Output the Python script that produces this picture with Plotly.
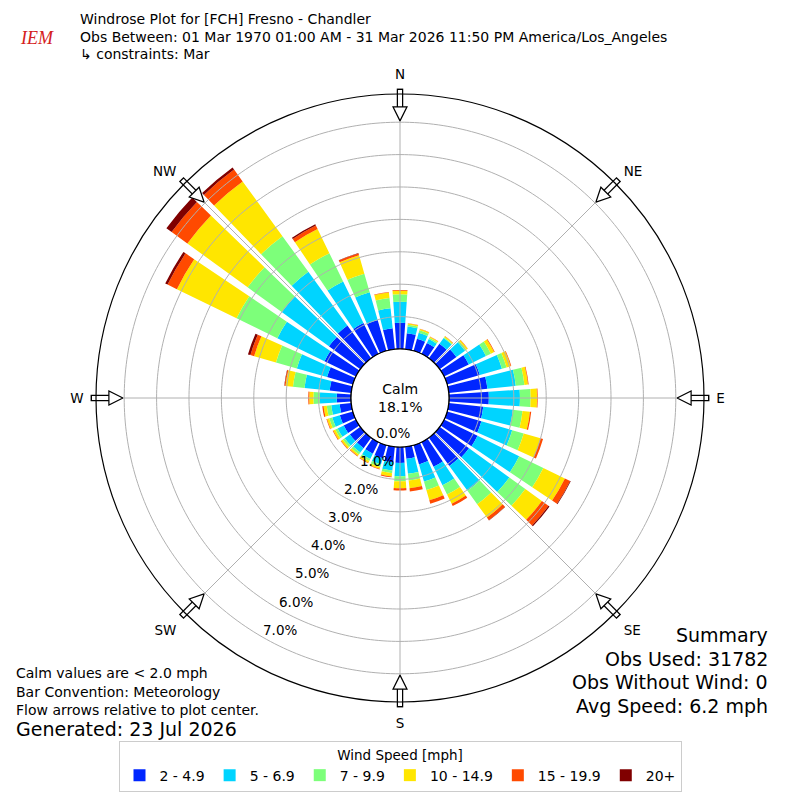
import numpy as np
import plotly.graph_objects as go

# 10 degree sectors, meteorological convention (direction wind blows from)
DIRECTIONS = list(range(0, 360, 10))

SPEED_BINS = ["2 - 4.9", "5 - 6.9", "7 - 9.9", "10 - 14.9", "15 - 19.9", "20+"]
BIN_COLORS = ["#0026ff", "#00d4ff", "#7dff7a", "#ffe600", "#ff4a00", "#800000"]

# frequency [%] of each speed bin per sector
PCT_2_5 = [0.81, 0.50, 0.39, 0.38, 0.56, 0.64, 0.85, 1.05, 1.20, 1.23, 1.07, 1.10,
           1.15, 1.12, 1.08, 0.85, 0.62, 0.37, 0.49, 0.48, 0.42, 0.40, 0.40, 0.40,
           0.42, 0.42, 0.36, 0.44, 0.67, 0.83, 1.08, 1.20, 1.25, 1.06, 0.99, 0.65]
PCT_5_7 = [0.65, 0.21, 0.19, 0.13, 0.22, 0.33, 0.59, 0.71, 0.88, 0.96, 0.92, 0.99,
           1.43, 1.54, 0.95, 0.63, 0.55, 0.47, 0.41, 0.26, 0.20, 0.18, 0.17, 0.20,
           0.21, 0.24, 0.26, 0.52, 0.78, 0.97, 1.62, 1.80, 2.05, 1.43, 0.89, 0.62]
PCT_7_10 = [0.23, 0.05, 0.08, 0.05, 0.03, 0.05, 0.17, 0.15, 0.27, 0.33, 0.30, 0.37,
            0.83, 0.61, 0.51, 0.32, 0.27, 0.21, 0.16, 0.08, 0.08, 0.07, 0.07, 0.07,
            0.08, 0.10, 0.14, 0.20, 0.36, 0.67, 1.40, 1.30, 1.36, 0.97, 0.60, 0.32]
PCT_10_15 = [0.11, 0.04, 0.04, 0.03, 0.03, 0.05, 0.11, 0.13, 0.11, 0.20, 0.23, 0.54,
             0.74, 0.63, 0.51, 0.32, 0.33, 0.24, 0.21, 0.10, 0.06, 0.06, 0.06, 0.06,
             0.07, 0.07, 0.10, 0.13, 0.23, 0.70, 2.05, 2.30, 2.09, 0.83, 0.59, 0.17]
PCT_15_20 = [0.02, 0.01, 0.01, 0.01, 0.01, 0.01, 0.02, 0.02, 0.02, 0.02, 0.04, 0.08,
             0.18, 0.25, 0.10, 0.08, 0.11, 0.10, 0.07, 0.03, 0.02, 0.02, 0.02, 0.02,
             0.02, 0.02, 0.04, 0.03, 0.03, 0.12, 0.32, 0.60, 0.45, 0.12, 0.06, 0.02]
PCT_20_UP = [0.00, 0.00, 0.00, 0.00, 0.00, 0.00, 0.00, 0.00, 0.00, 0.00, 0.00, 0.00,
             0.02, 0.04, 0.01, 0.00, 0.00, 0.00, 0.00, 0.00, 0.00, 0.00, 0.00, 0.00,
             0.00, 0.00, 0.00, 0.00, 0.01, 0.08, 0.08, 0.20, 0.08, 0.04, 0.01, 0.00]

SERIES = [PCT_2_5, PCT_5_7, PCT_7_10, PCT_10_15, PCT_15_20, PCT_20_UP]

RING_TICKS = [0, 1, 2, 3, 4, 5, 6, 7]
R_MAX = 7.87
COMPASS_DIRS = [0, 45, 90, 135, 180, 225, 270, 315]
COMPASS_TEXT = ["N", "NE", "E", "SE", "S", "SW", "W", "NW"]

CALM_PCT = 18.1
FONT = "DejaVu Sans"
GRID = "#b0b0b0"

# page geometry (the browser adds an 8px body margin)
W = H = 800
OFF = 8
CX, CY = 400, 398          # rose centre in the page
R_OUT, R_HOLE = 304, 49    # outer radius / calm circle radius in px


def px(x, y):
    return (x - OFF) / W, 1 - (y - OFF) / H


fig = go.Figure()

for vals, name, color in zip(SERIES, SPEED_BINS, BIN_COLORS):
    fig.add_trace(go.Barpolar(
        r=vals, theta=DIRECTIONS, width=8, name=name,
        marker=dict(color=color, line=dict(width=0)),
        hoverinfo="skip",
    ))

# grid drawn on top of the bars, like the original
ring_theta = np.linspace(0, 360, 361)
for rv in RING_TICKS[1:]:
    fig.add_trace(go.Scatterpolar(
        r=[rv] * len(ring_theta), theta=ring_theta, mode="lines",
        line=dict(color=GRID, width=1), showlegend=False, hoverinfo="skip"))

spoke_r, spoke_t = [], []
for d in COMPASS_DIRS:
    spoke_r += [0, R_MAX, None]
    spoke_t += [d, d, None]
fig.add_trace(go.Scatterpolar(
    r=spoke_r, theta=spoke_t, mode="lines",
    line=dict(color=GRID, width=1), showlegend=False, hoverinfo="skip"))

# calm circle edge
fig.add_trace(go.Scatterpolar(
    r=[0] * len(ring_theta), theta=ring_theta, mode="lines",
    line=dict(color="black", width=1.2), showlegend=False, hoverinfo="skip"))

# flow arrows at the rim pointing to the centre
arrow_angle = [d + 180 for d in COMPASS_DIRS]
fig.add_trace(go.Scatterpolar(
    r=[7.67] * 8, theta=COMPASS_DIRS, mode="markers", cliponaxis=False,
    marker=dict(symbol="line-ns", size=17, angle=arrow_angle,
                line=dict(color="black", width=6.5)),
    showlegend=False, hoverinfo="skip"))
fig.add_trace(go.Scatterpolar(
    r=[7.67] * 8, theta=COMPASS_DIRS, mode="markers", cliponaxis=False,
    marker=dict(symbol="line-ns", size=15, angle=arrow_angle,
                line=dict(color="white", width=4)),
    showlegend=False, hoverinfo="skip"))
fig.add_trace(go.Scatterpolar(
    r=[7.04] * 8, theta=COMPASS_DIRS, mode="markers", cliponaxis=False,
    marker=dict(symbol="arrow-up", size=14, angle=arrow_angle, color="white",
                line=dict(color="black", width=1.2)),
    showlegend=False, hoverinfo="skip"))

x0, y1 = px(CX - R_OUT, CY - R_OUT)
x1, y0 = px(CX + R_OUT, CY + R_OUT)
lx, ly = px(400, 741)

fig.update_layout(
    width=W, height=H,
    margin=dict(l=0, r=0, t=0, b=0),
    paper_bgcolor="white",
    font=dict(family=FONT, size=13, color="black"),
    polar=dict(
        domain=dict(x=[x0, x1], y=[y0, y1]),
        hole=R_HOLE / R_OUT,
        bgcolor="white",
        barmode="stack",
        angularaxis=dict(
            rotation=90, direction="clockwise",
            tickmode="array", tickvals=COMPASS_DIRS, ticktext=COMPASS_TEXT,
            ticks="outside", ticklen=9, tickcolor="rgba(0,0,0,0)",
            showgrid=False, showline=True, linecolor="black", linewidth=1.2,
            tickfont=dict(size=13.5),
        ),
        radialaxis=dict(
            range=[0, R_MAX], tickvals=RING_TICKS,
            showgrid=False, showline=False, ticks="", showticklabels=False,
        ),
    ),
    legend=dict(
        orientation="h", x=lx, xanchor="center", y=ly, yanchor="top",
        bordercolor="#cccccc", borderwidth=1, bgcolor="white",
        title=dict(text="Wind Speed [mph]", side="top center", font=dict(size=13.5)),
        font=dict(size=14), itemwidth=30, traceorder="normal",
    ),
)

ann = []


def add_text(text, x, y, anchor="left", size=13, **kw):
    ax, ay = px(x, y)
    ann.append(dict(text=text, x=ax, y=ay, xanchor=anchor, yanchor="middle",
                    xref="paper", yref="paper", showarrow=False, borderpad=0,
                    borderwidth=0, font=dict(size=size, **kw)))


title_lines = [
    "Windrose Plot for [FCH] Fresno - Chandler",
    "Obs Between: 01 Mar 1970 01:00 AM - 31 Mar 2026 11:50 PM America/Los_Angeles",
    "↳ constraints: Mar",
]
for i, t in enumerate(title_lines):
    add_text(t, 80, 19 + 17.5 * i, size=14)

add_text("<i>IEM</i>", 37, 38, anchor="center", size=18,
         family="Liberation Serif", color="#d42020")

add_text(f"Calm<br>{CALM_PCT:.1f}%", CX, CY, anchor="center", size=14)

# radial tick labels, offset from a line just off the SSW direction
px_per_pct = (R_OUT - R_HOLE) / R_MAX
ux, uy = -0.499, 0.867
nx, ny = 0.867, 0.499
for v in RING_TICKS:
    along = R_HOLE + px_per_pct * v - 15.2
    add_text(f"{v:.1f}%", CX + along * ux + 11.4 * nx, CY + along * uy + 11.4 * ny,
             anchor="center", size=13.5)

notes = ["Calm values are < 2.0 mph", "Bar Convention: Meteorology",
         "Flow arrows relative to plot center."]
for i, t in enumerate(notes):
    add_text(t, 16, 673 + 18.5 * i, size=14)
add_text("Generated: 23 Jul 2026", 16, 729, size=19)

summary = ["Summary", "Obs Used: 31782", "Obs Without Wind: 0", "Avg Speed: 6.2 mph"]
for i, t in enumerate(summary):
    add_text(t, 768, 635 + 23.5 * i, anchor="right", size=19)

fig.update_layout(annotations=ann)

fig.write_html("out.html")
